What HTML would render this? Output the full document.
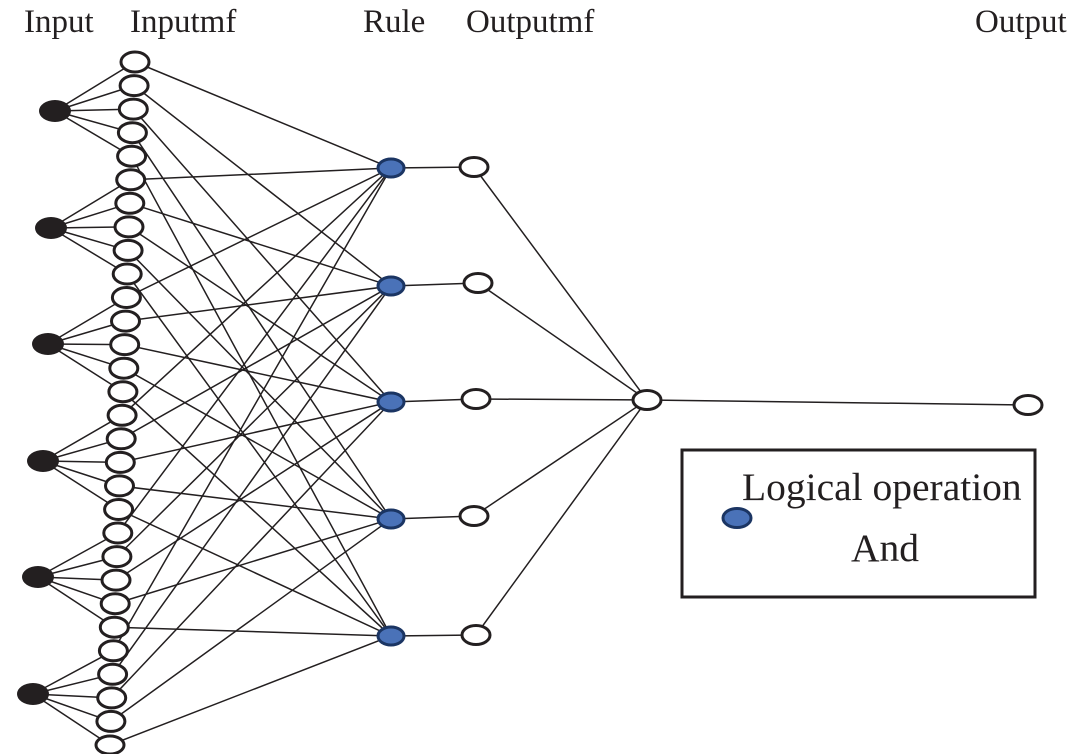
<!DOCTYPE html>
<html><head><meta charset="utf-8"><style>
html,body{margin:0;padding:0;background:#fff;}
svg{display:block;}
text{font-family:"Liberation Serif",serif;fill:#231f20;}
</style></head><body>
<svg width="1088" height="754" viewBox="0 0 1088 754">
<g stroke="#231f20" stroke-width="1.5" fill="none">
<path d="M55 111L135 62M55 111L134.1 85.6M55 111L133.3 109.1M55 111L132.4 132.7M55 111L131.6 156.2"/>
<path d="M51 228L130.7 179.8M51 228L129.8 203.3M51 228L129 226.9M51 228L128.1 250.4M51 228L127.2 274"/>
<path d="M48 344L126.4 297.5M48 344L125.5 321.1M48 344L124.7 344.6M48 344L123.8 368.2M48 344L122.9 391.7"/>
<path d="M43 461L122.1 415.3M43 461L121.2 438.8M43 461L120.3 462.4M43 461L119.5 485.9M43 461L118.6 509.5"/>
<path d="M38 577L117.8 533M38 577L116.9 556.6M38 577L116 580.1M38 577L115.2 603.7M38 577L114.3 627.2"/>
<path d="M33 694L113.4 650.8M33 694L112.6 674.3M33 694L111.7 697.9M33 694L110.9 721.4M33 694L110 745"/>
<path d="M135 62L391 168M134.1 85.6L391 286M133.3 109.1L391 402M132.4 132.7L391 519M131.6 156.2L391 636"/>
<path d="M130.7 179.8L391 168M129.8 203.3L391 286M129 226.9L391 402M128.1 250.4L391 519M127.2 274L391 636"/>
<path d="M126.4 297.5L391 168M125.5 321.1L391 286M124.7 344.6L391 402M123.8 368.2L391 519M122.9 391.7L391 636"/>
<path d="M122.1 415.3L391 168M121.2 438.8L391 286M120.3 462.4L391 402M119.5 485.9L391 519M118.6 509.5L391 636"/>
<path d="M117.8 533L391 168M116.9 556.6L391 286M116 580.1L391 402M115.2 603.7L391 519M114.3 627.2L391 636"/>
<path d="M113.4 650.8L391 168M112.6 674.3L391 286M111.7 697.9L391 402M110.9 721.4L391 519M110 745L391 636"/>
<path d="M391 168L474 167M391 286L478 283M391 402L476 399M391 519L474 516M391 636L476 635"/>
<path d="M474 167L647 400M478 283L647 400M476 399L647 400M474 516L647 400M476 635L647 400M647 400L1028 405"/>
</g>
<g fill="#231f20">
<ellipse cx="55" cy="111" rx="16" ry="11"/>
<ellipse cx="51" cy="228" rx="16" ry="11"/>
<ellipse cx="48" cy="344" rx="16" ry="11"/>
<ellipse cx="43" cy="461" rx="16" ry="11"/>
<ellipse cx="38" cy="577" rx="16" ry="11"/>
<ellipse cx="33" cy="694" rx="16" ry="11"/>
</g>
<g fill="#fff" stroke="#231f20" stroke-width="3">
<ellipse cx="135" cy="62" rx="14" ry="10"/>
<ellipse cx="134.1" cy="85.6" rx="14" ry="10"/>
<ellipse cx="133.3" cy="109.1" rx="14" ry="10"/>
<ellipse cx="132.4" cy="132.7" rx="14" ry="10"/>
<ellipse cx="131.6" cy="156.2" rx="14" ry="10"/>
<ellipse cx="130.7" cy="179.8" rx="14" ry="10"/>
<ellipse cx="129.8" cy="203.3" rx="14" ry="10"/>
<ellipse cx="129" cy="226.9" rx="14" ry="10"/>
<ellipse cx="128.1" cy="250.4" rx="14" ry="10"/>
<ellipse cx="127.2" cy="274" rx="14" ry="10"/>
<ellipse cx="126.4" cy="297.5" rx="14" ry="10"/>
<ellipse cx="125.5" cy="321.1" rx="14" ry="10"/>
<ellipse cx="124.7" cy="344.6" rx="14" ry="10"/>
<ellipse cx="123.8" cy="368.2" rx="14" ry="10"/>
<ellipse cx="122.9" cy="391.7" rx="14" ry="10"/>
<ellipse cx="122.1" cy="415.3" rx="14" ry="10"/>
<ellipse cx="121.2" cy="438.8" rx="14" ry="10"/>
<ellipse cx="120.3" cy="462.4" rx="14" ry="10"/>
<ellipse cx="119.5" cy="485.9" rx="14" ry="10"/>
<ellipse cx="118.6" cy="509.5" rx="14" ry="10"/>
<ellipse cx="117.8" cy="533" rx="14" ry="10"/>
<ellipse cx="116.9" cy="556.6" rx="14" ry="10"/>
<ellipse cx="116" cy="580.1" rx="14" ry="10"/>
<ellipse cx="115.2" cy="603.7" rx="14" ry="10"/>
<ellipse cx="114.3" cy="627.2" rx="14" ry="10"/>
<ellipse cx="113.4" cy="650.8" rx="14" ry="10"/>
<ellipse cx="112.6" cy="674.3" rx="14" ry="10"/>
<ellipse cx="111.7" cy="697.9" rx="14" ry="10"/>
<ellipse cx="110.9" cy="721.4" rx="14" ry="10"/>
<ellipse cx="110" cy="745" rx="14" ry="9"/>
<ellipse cx="474" cy="167" rx="14" ry="9.5"/>
<ellipse cx="478" cy="283" rx="14" ry="9.5"/>
<ellipse cx="476" cy="399" rx="14" ry="9.5"/>
<ellipse cx="474" cy="516" rx="14" ry="9.5"/>
<ellipse cx="476" cy="635" rx="14" ry="9.5"/>
<ellipse cx="647" cy="400" rx="14" ry="9.5"/>
<ellipse cx="1028" cy="405" rx="14" ry="9.5"/>
</g>
<g fill="#4a72b8" stroke="#1b3563" stroke-width="3">
<ellipse cx="391" cy="168" rx="13" ry="9"/>
<ellipse cx="391" cy="286" rx="13" ry="9"/>
<ellipse cx="391" cy="402" rx="13" ry="9"/>
<ellipse cx="391" cy="519" rx="13" ry="9"/>
<ellipse cx="391" cy="636" rx="13" ry="9"/>
<ellipse cx="737" cy="518" rx="14" ry="9.5"/>
</g>
<rect x="682" y="450" width="353" height="147" fill="none" stroke="#231f20" stroke-width="3"/>
<text x="742" y="500" font-size="39.5">Logical operation</text>
<text x="851" y="561" font-size="39.5">And</text>
<text x="24" y="32" font-size="33">Input</text>
<text x="130" y="32" font-size="33">Inputmf</text>
<text x="363" y="32" font-size="33">Rule</text>
<text x="466" y="32" font-size="33">Outputmf</text>
<text x="975" y="32" font-size="33">Output</text>
</svg>
</body></html>
